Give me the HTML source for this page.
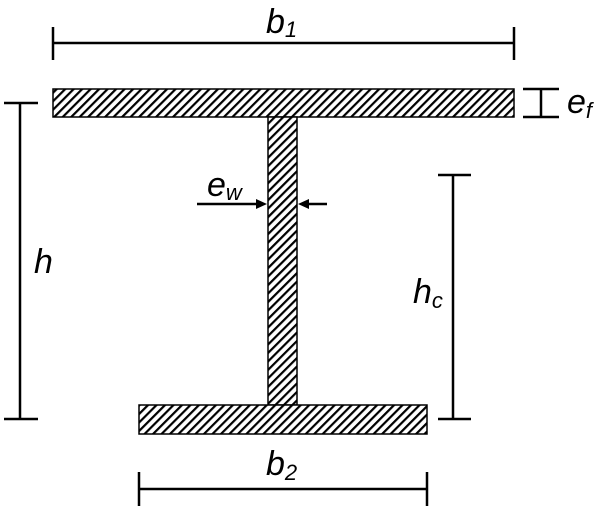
<!DOCTYPE html>
<html><head><style>
html,body{margin:0;padding:0;background:#fff;}
svg{display:block;}
text{font-family:"Liberation Sans",Arial,sans-serif;font-style:italic;fill:#000;}
</style></head><body>
<svg width="608" height="512" viewBox="0 0 608 512" xmlns="http://www.w3.org/2000/svg">
<defs>
<pattern id="h" patternUnits="userSpaceOnUse" width="6" height="6" patternTransform="rotate(45)">
<rect width="6" height="6" fill="#fff"/>
<rect x="0" y="0" width="2.2" height="6" fill="#000"/>
</pattern>
</defs>
<g stroke="#000" stroke-width="1.5">
<rect x="53" y="89" width="461" height="28" fill="url(#h)"/>
<rect x="268" y="117" width="29" height="288" fill="url(#h)"/>
<rect x="139" y="405" width="288" height="29" fill="url(#h)"/>
</g>
<g stroke="#000" stroke-width="2.5" fill="none">
<line x1="53" y1="43" x2="514" y2="43"/><line x1="53" y1="27" x2="53" y2="60"/><line x1="514" y1="27" x2="514" y2="60"/>
<line x1="139" y1="489" x2="427" y2="489"/><line x1="139" y1="472" x2="139" y2="506"/><line x1="427" y1="472" x2="427" y2="506"/>
<line x1="20" y1="103" x2="20" y2="419"/><line x1="4" y1="103" x2="38" y2="103"/><line x1="4" y1="419" x2="38" y2="419"/>
<line x1="453" y1="175" x2="453" y2="419"/><line x1="438" y1="175" x2="471" y2="175"/><line x1="438" y1="419" x2="471" y2="419"/>
<line x1="541" y1="89" x2="541" y2="117"/><line x1="523" y1="89" x2="559" y2="89"/><line x1="523" y1="117" x2="559" y2="117"/>
<line x1="197" y1="204" x2="258" y2="204"/><line x1="327" y1="204" x2="307" y2="204"/>
</g>
<polygon points="267,204 256,199 256,209" fill="#000"/>
<polygon points="298,204 309,199 309,209" fill="#000"/>
<text x="266" y="33" font-size="34">b<tspan font-size="22" dy="4">1</tspan></text>
<text x="266" y="475" font-size="34">b<tspan font-size="22" dy="5">2</tspan></text>
<text x="34" y="273" font-size="34">h</text>
<text x="413" y="303" font-size="34">h<tspan font-size="22" dy="5">c</tspan></text>
<text x="207" y="196" font-size="34">e<tspan font-size="22" dy="4">w</tspan></text>
<text x="567" y="113" font-size="34">e<tspan font-size="22" dy="5">f</tspan></text>
</svg>
</body></html>
